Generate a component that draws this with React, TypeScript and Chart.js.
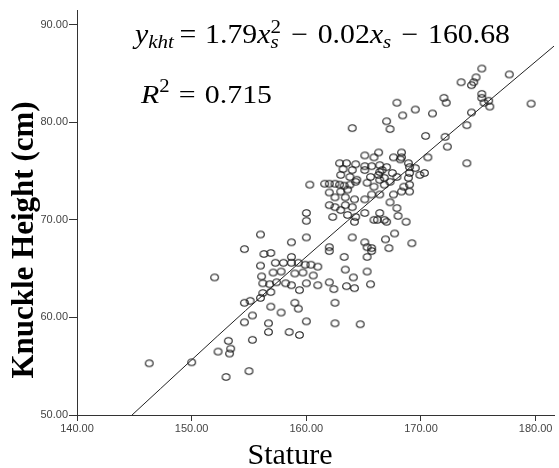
import React, { useEffect, useRef } from 'react';
import { Chart, registerables } from 'chart.js';

Chart.register(...registerables);

// ---------- data ----------
const statureCm = [
  146.3, 150.0, 153.0, 155.0, 152.3, 153.2, 153.4, 153.3, 155.3, 154.6,
  155.3, 154.6, 155.1, 156.0, 156.2, 152.0, 154.6, 156.0, 156.3, 156.0,
  156.1, 156.2, 156.7, 156.7, 156.9, 158.7, 157.3, 158.0, 158.7, 159.3,
  159.9, 160.4, 161.0, 157.1, 157.8, 159.0, 159.7, 160.6, 156.8, 157.4,
  158.2, 158.7, 160.0, 161.0, 159.4, 156.9, 156.9, 157.8, 159.0, 159.3,
  162.0, 162.4, 162.5, 163.3, 163.4, 163.5, 164.2, 164.1, 165.3, 165.3,
  165.6, 158.5, 159.4, 160.0, 162.5, 164.7, 162.0, 165.7, 164.0, 165.1,
  165.9, 162.9, 163.5, 164.3, 165.1, 165.7, 166.4, 163.2, 164.0, 165.1,
  166.6, 163.0, 163.8, 164.4, 165.6, 166.3, 166.4, 160.3, 161.6, 162.0,
  162.5, 162.9, 163.3, 163.8, 164.3, 165.3, 165.9, 166.8, 162.0, 163.0,
  163.6, 162.5, 163.4, 164.2, 165.1, 165.7, 162.0, 162.5, 163.0, 163.4,
  164.0, 162.3, 163.6, 164.3, 165.1, 165.9, 166.8, 160.0, 160.0, 164.2,
  158.7, 160.0, 162.0, 164.0, 165.1, 165.3, 165.7, 166.9, 175.3, 174.8,
  173.5, 174.4, 174.6, 177.7, 175.3, 175.3, 175.9, 176.0, 175.5, 179.6,
  172.0, 172.2, 167.9, 168.4, 169.5, 171.0, 167.0, 167.3, 170.4, 174.4,
  174.0, 172.1, 172.3, 170.6, 174.0, 166.3, 168.3, 167.6, 168.3, 168.9,
  168.2, 169.0, 169.5, 167.0, 166.4, 167.5, 169.0, 169.9, 170.3, 166.8,
  167.9, 168.9, 169.0, 168.5, 167.3, 168.3, 169.0, 167.6, 166.4, 167.3,
  167.9, 166.4, 166.2, 168.0, 167.0, 168.7, 167.7, 167.2, 169.2,
];

const knuckleHeightCm = [
  55.3, 55.4, 53.9, 54.5, 56.5, 57.6, 56.8, 56.3, 57.7, 59.5,
  60.2, 61.5, 61.7, 62.0, 62.5, 64.1, 67.0, 68.5, 66.5, 65.3,
  64.2, 63.5, 59.4, 58.5, 66.6, 66.2, 65.6, 65.6, 65.6, 65.6,
  65.4, 65.4, 65.2, 64.6, 64.7, 64.5, 64.6, 64.3, 63.4, 63.6,
  63.5, 63.3, 63.5, 63.3, 62.8, 62.6, 61.1, 60.5, 61.5, 60.9,
  63.6, 62.9, 61.5, 66.2, 64.9, 63.2, 63.0, 64.1, 66.2, 64.7,
  63.4, 58.5, 58.2, 59.6, 59.4, 59.3, 66.8, 66.8, 79.4, 76.6,
  76.4, 75.8, 75.8, 75.7, 75.5, 75.5, 75.6, 75.2, 75.1, 75.1,
  75.1, 74.6, 74.4, 74.1, 74.4, 74.6, 74.1, 73.6, 73.7, 73.7,
  73.7, 73.6, 73.5, 73.6, 73.9, 73.8, 73.4, 73.6, 72.8, 72.9,
  73.1, 72.3, 72.3, 72.1, 72.1, 72.6, 71.5, 71.3, 71.0, 71.5,
  71.3, 70.3, 70.5, 70.3, 70.7, 70.0, 70.0, 70.7, 69.9, 69.8,
  67.7, 68.2, 67.2, 68.2, 67.7, 67.2, 67.1, 68.0, 85.5, 84.6,
  84.1, 83.8, 84.1, 84.9, 82.9, 82.5, 82.2, 81.6, 82.0, 81.9,
  82.5, 82.0, 82.0, 80.7, 81.3, 80.9, 80.1, 79.3, 78.6, 81.0,
  79.7, 78.5, 77.5, 76.4, 75.8, 76.9, 76.9, 76.4, 76.4, 75.8,
  76.2, 75.4, 75.3, 75.4, 74.9, 74.8, 74.8, 74.6, 74.8, 74.3,
  74.4, 74.3, 73.6, 73.4, 73.9, 72.9, 72.9, 72.6, 72.6, 71.8,
  71.2, 70.7, 70.0, 70.4, 69.8, 69.8, 68.6, 67.1, 67.6,
];

// fitted curve
const fitStature = [144.8, 154.7, 163.6, 172.2, 181.6];
const fitKnuckle = [50.0, 60.7, 69.9, 78.5, 87.8];

const xAxisMin = 140;
const xAxisMax = 181.6;
const yAxisMin = 50;
const yAxisMax = 91.5;
const tickStep = 10;

const xTitle = 'Stature';
const yTitle = 'Knuckle Height (cm)';

// ---------- helpers ----------
const SANS = '"Liberation Sans", Arial, sans-serif';
const SERIF = '"Liberation Serif", "Times New Roman", serif';

type Run = { t?: string; size?: number; it?: boolean; dy?: number; stack?: boolean; gap?: number };

const eqRuns: Run[] = [
  { t: 'y', size: 27, it: true },
  { t: 'kht', size: 19, it: true, dy: 5 },
  { gap: 5 },
  { t: '=', size: 27 },
  { gap: 8 },
  { t: '1.79', size: 27 },
  { t: 'x', size: 27, it: true },
  { t: '2', size: 19, dy: -10, stack: true },
  { t: 's', size: 19, it: true, dy: 5 },
  { gap: 9 },
  { t: '\u2212', size: 27 },
  { gap: 9 },
  { t: '0.02', size: 27 },
  { t: 'x', size: 27, it: true },
  { t: 's', size: 19, it: true, dy: 5 },
  { gap: 9 },
  { t: '\u2212', size: 27 },
  { gap: 9 },
  { t: '160.68', size: 27 },
];

const r2Runs: Run[] = [
  { t: 'R', size: 26, it: true },
  { t: '2', size: 18, dy: -11 },
  { gap: 8 },
  { t: '=', size: 26 },
  { gap: 8 },
  { t: '0.715', size: 26 },
];

function fontOf(r: Run) {
  return `${r.it ? 'italic ' : ''}${r.size}px ${SERIF}`;
}

function drawRuns(ctx: CanvasRenderingContext2D, runs: Run[], x0: number, baseY: number, target: number) {
  const placed: { r: Run; x: number }[] = [];
  let x = 0;
  let i = 0;
  while (i < runs.length) {
    const r = runs[i];
    if (r.gap !== undefined) { x += r.gap; i++; continue; }
    ctx.font = fontOf(r);
    const w = ctx.measureText(r.t || '').width;
    if (r.stack && i + 1 < runs.length) {
      const r2 = runs[i + 1];
      ctx.font = fontOf(r2);
      const w2 = ctx.measureText(r2.t || '').width;
      placed.push({ r, x });
      placed.push({ r: r2, x });
      x += Math.max(w, w2);
      i += 2;
    } else {
      placed.push({ r, x });
      x += w;
      i++;
    }
  }
  ctx.save();
  ctx.translate(x0, baseY);
  ctx.scale(target / x, 1);
  ctx.fillStyle = '#000';
  ctx.textBaseline = 'alphabetic';
  ctx.textAlign = 'left';
  for (const p of placed) {
    ctx.font = fontOf(p.r);
    ctx.fillText(p.r.t || '', p.x, p.r.dy || 0);
  }
  ctx.restore();
}

const textPlugin = {
  id: 'textPlugin',
  afterDraw(chart: any) {
    const ctx: CanvasRenderingContext2D = chart.ctx;
    drawRuns(ctx, eqRuns, 135, 43, 375);
    drawRuns(ctx, r2Runs, 141, 103, 131);

    ctx.save();
    ctx.fillStyle = '#000';
    ctx.font = `30px ${SERIF}`;
    ctx.textAlign = 'center';
    ctx.textBaseline = 'alphabetic';
    ctx.fillText(xTitle, 290, 464);
    ctx.restore();

    ctx.save();
    ctx.fillStyle = '#000';
    ctx.font = `bold 31px ${SERIF}`;
    ctx.translate(33, 240);
    ctx.rotate(-Math.PI / 2);
    ctx.textAlign = 'center';
    ctx.textBaseline = 'alphabetic';
    ctx.fillText(yTitle, 0, 0);
    ctx.restore();
  },
};

function makeMarker(): HTMLCanvasElement {
  const c = document.createElement('canvas');
  c.width = 11;
  c.height = 10;
  const g = c.getContext('2d')!;
  g.strokeStyle = '#1a1a1a';
  g.lineWidth = 1.1;
  g.beginPath();
  g.ellipse(5.5, 5, 3.8, 3.2, 0, 0, Math.PI * 2);
  g.stroke();
  return c;
}

export default function App() {
  const ref = useRef<HTMLCanvasElement | null>(null);

  useEffect(() => {
    if (!ref.current) return;
    const marker = makeMarker();
    const tickFont = { family: SANS, size: 11 };
    const fmt = (v: any) => Number(v).toFixed(2);

    const chart = new Chart(ref.current, {
      type: 'scatter',
      data: {
        datasets: [
          {
            label: 'fit',
            data: fitStature.map((x, i) => ({ x, y: fitKnuckle[i] })),
            showLine: true,
            borderColor: '#222',
            borderWidth: 1,
            pointRadius: 0,
            cubicInterpolationMode: 'monotone',
            fill: false,
          } as any,
          {
            label: 'observed',
            data: statureCm.map((x, i) => ({ x, y: knuckleHeightCm[i] })),
            pointStyle: marker as any,
            pointRadius: 4,
            showLine: false,
          } as any,
        ],
      },
      options: {
        responsive: false,
        animation: false,
        events: [],
        layout: { padding: { top: 10, right: 0, left: 0, bottom: 0 } },
        plugins: {
          legend: { display: false },
          tooltip: { enabled: false },
          title: { display: false },
        },
        scales: {
          x: {
            type: 'linear',
            min: xAxisMin,
            max: xAxisMax,
            afterFit: (s: any) => { s.height = 53; },
            ticks: {
              stepSize: tickStep,
              includeBounds: false,
              callback: fmt,
              font: tickFont,
              color: '#444',
              padding: 1,
              maxRotation: 0,
              autoSkip: false,
            },
            grid: { drawOnChartArea: false, drawTicks: true, tickLength: 6, color: '#333', lineWidth: 1 },
            border: { display: true, color: '#333', width: 1 },
          },
          y: {
            type: 'linear',
            min: yAxisMin,
            max: yAxisMax,
            afterFit: (s: any) => { s.width = 77; },
            ticks: {
              stepSize: tickStep,
              includeBounds: false,
              callback: fmt,
              font: tickFont,
              color: '#444',
              padding: 1,
              autoSkip: false,
            },
            grid: { drawOnChartArea: false, drawTicks: true, tickLength: 8, color: '#333', lineWidth: 1 },
            border: { display: true, color: '#333', width: 1 },
          },
        },
      } as any,
      plugins: [textPlugin],
    });
    return () => chart.destroy();
  }, []);

  return (
    <div style={{ position: 'absolute', left: 0, top: 0, width: 559, height: 468, background: '#fff' }}>
      <canvas ref={ref} width={559} height={468} style={{ display: 'block' }} />
    </div>
  );
}
